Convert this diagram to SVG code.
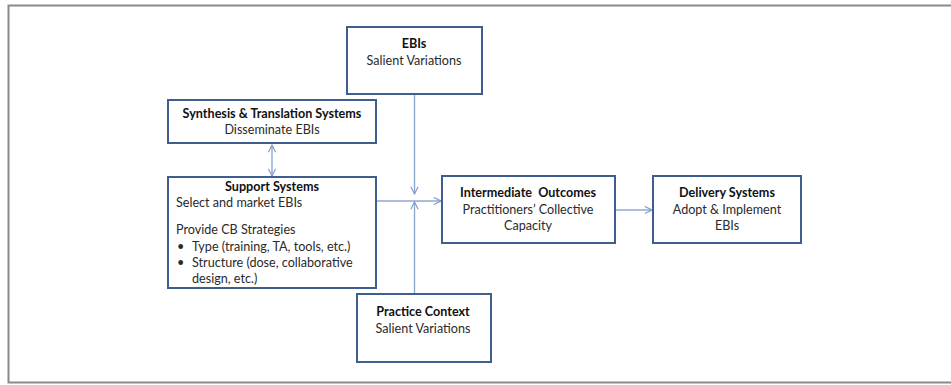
<svg xmlns="http://www.w3.org/2000/svg" width="951" height="385" viewBox="0 0 951 385">
<defs>
<style>
.box{fill:#fff;stroke:#3f5e8e;stroke-width:2}
.t{font-family:Lato,"Open Sans","Liberation Sans",sans-serif;font-size:12.6px;fill:#2a2a2a}
.b{font-weight:bold;fill:#111}
.c{text-anchor:middle}
.ln{fill:none;stroke:#8eaad2;stroke-width:1.4}
</style>
<marker id="ar" viewBox="0 0 10 10" refX="9" refY="5" markerWidth="9" markerHeight="9" markerUnits="userSpaceOnUse" orient="auto-start-reverse">
<path d="M1,1 L9,5 L1,9" fill="none" stroke="#7f9ecb" stroke-width="1.3"/>
</marker>
</defs>
<rect x="0" y="0" width="951" height="385" fill="#fff"/>
<path d="M951,5.5 H8.5 V382.5 H951" fill="none" stroke="#8a8a8a" stroke-width="2"/>
<g id="connectors">
<line class="ln" x1="272" y1="145" x2="272" y2="176" marker-start="url(#ar)" marker-end="url(#ar)"/>
<line class="ln" x1="377" y1="201" x2="441" y2="201" marker-end="url(#ar)"/>
<line class="ln" x1="414.5" y1="94" x2="414.5" y2="194" marker-end="url(#ar)"/>
<line class="ln" x1="414.5" y1="293" x2="414.5" y2="202" marker-end="url(#ar)"/>
<line class="ln" x1="616" y1="210" x2="652" y2="210" marker-end="url(#ar)"/>
</g>
<g id="ebis">
<rect class="box" x="347" y="27" width="135" height="67"/>
<text class="t b c" x="414" y="48">EBIs</text>
<text class="t c" x="414" y="65">Salient Variations</text>
</g>
<g id="synthesis">
<rect class="box" x="168" y="100" width="208" height="43"/>
<text class="t b c" x="272" y="118">Synthesis &amp; Translation Systems</text>
<text class="t c" x="272" y="134">Disseminate EBIs</text>
</g>
<g id="support">
<rect class="box" x="168" y="177" width="208" height="111"/>
<text class="t b c" x="272" y="191">Support Systems</text>
<text class="t" x="176" y="207">Select and market EBIs</text>
<text class="t" x="176" y="234">Provide CB Strategies</text>
<text class="t" x="177" y="251">•</text>
<text class="t" x="192" y="251">Type (training, TA, tools, etc.)</text>
<text class="t" x="177" y="267">•</text>
<text class="t" x="192" y="267">Structure (dose, collaborative</text>
<text class="t" x="192" y="283">design, etc.)</text>
</g>
<g id="intermediate">
<rect class="box" x="442" y="176" width="173" height="67"/>
<text class="t b c" x="528" y="197" xml:space="preserve">Intermediate  Outcomes</text>
<text class="t c" x="528" y="214">Practitioners’ Collective</text>
<text class="t c" x="528" y="230">Capacity</text>
</g>
<g id="delivery">
<rect class="box" x="653" y="176" width="148" height="67"/>
<text class="t b c" x="727" y="197">Delivery Systems</text>
<text class="t c" x="727" y="214">Adopt &amp; Implement</text>
<text class="t c" x="727" y="230">EBIs</text>
</g>
<g id="practice">
<rect class="box" x="357" y="294" width="134" height="68"/>
<text class="t b c" x="423" y="316">Practice Context</text>
<text class="t c" x="423" y="333">Salient Variations</text>
</g>
</svg>
